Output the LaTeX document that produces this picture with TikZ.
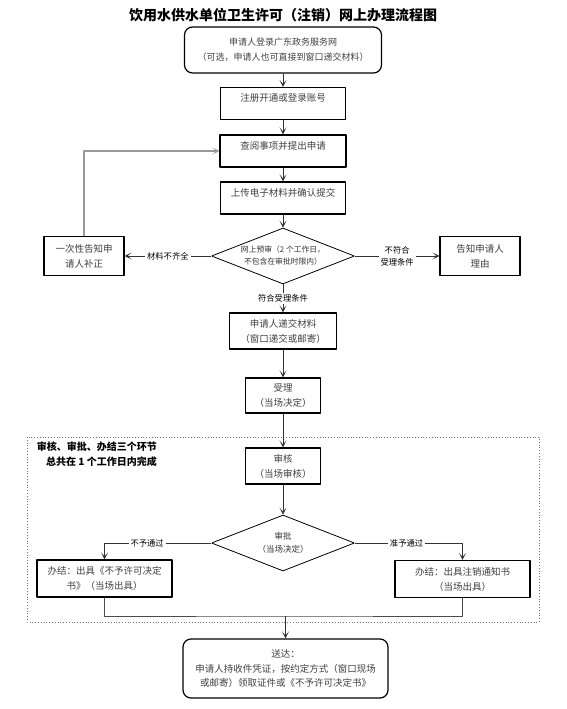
\documentclass[tikz,border=0pt]{standalone}
\usepackage{fontspec}
\usepackage{tikz}
\usetikzlibrary{arrows.meta}
\usetikzlibrary{shapes.geometric}
\newfontfamily\cjk{Noto Sans CJK SC}

\begin{document}
\begin{tikzpicture}[x=1pt, y=-1pt, line join=bevel,
    >={Stealth[length=7pt,width=7pt,inset=4pt]},
    box/.style={draw, line width=1.2pt, inner sep=0pt, align=center, text=black!75,
        font=\cjk\fontsize{9.5}{15}\selectfont},
    topbox/.style={box, text height=14pt, text depth=18pt},
    rbox/.style={box, rounded corners=8pt},
    dia/.style={draw, diamond, line width=0.8pt, inner sep=0pt,
        minimum width=143pt, minimum height=56pt},
    dialbl/.style={align=center, inner sep=0pt, text=black!80},
    lbl/.style={fill=white, inner sep=2pt, align=center,
        font=\cjk\fontsize{8.3}{12}\selectfont},
    flow/.style={->, draw=black!80, line width=0.8pt}]
            \useasboundingbox (0,0) rectangle (566,709);

            \draw [dotted, draw=black!55, line width=0.8pt] (27,437) rectangle (539,622);

            \node [font=\cjk\bfseries\fontsize{14}{16}\selectfont] (title) at (283,15)
                {饮用水供水单位卫生许可（注销）网上办理流程图};

            \node [rbox, minimum width=197pt, minimum height=46pt, font=\cjk\fontsize{9}{15}\selectfont] (login) at (283,50)
                {申请人登录广东政务服务网\\（可选，申请人也可直接到窗口递交材料）};
            \node [topbox, minimum width=125pt] (reg) at (283,103.5) {注册开通或登录账号};
            \node [topbox, minimum width=126pt] (query) at (283,151) {查阅事项并提出申请};
            \node [topbox, minimum width=125pt] (upload) at (283,198) {上传电子材料并确认提交};

            \node [dia] (pre) at (283,256) {};
            \node [dialbl, font=\cjk\fontsize{7.8}{12}\selectfont] (prelbl) at (pre)
                {网上预审（2 个工作日，\\不包含在审批时限内）};

            \node [box, minimum width=80pt, minimum height=39pt] (back) at (84,256) {一次性告知申\\请人补正};
            \node [box, minimum width=80pt, minimum height=39pt] (deny) at (480,256) {告知申请人\\理由};

            \node [box, minimum width=107pt, minimum height=36pt] (submit) at (283,331) {申请人递交材料\\（窗口递交或邮寄）};
            \node [box, minimum width=75pt, minimum height=35pt] (accept) at (283,395.5) {受理\\（当场决定）};

            \node [anchor=north east, align=right, inner sep=0pt, font=\cjk\bfseries\fontsize{10}{15}\selectfont] (note) at (157,442)
                {审核、审批、办结三个环节\\总共在 1 个工作日内完成};

            \node [box, minimum width=75pt, minimum height=36pt] (check) at (283,466) {审核\\（当场审核）};
            \node [dia] (approve) at (283,543) {};
            \node [dialbl, font=\cjk\fontsize{8.5}{13}\selectfont] (approvelbl) at (approve) {审批\\（当场决定）};

            \node [box, minimum width=135pt, minimum height=37pt] (refuse) at (104.5,578.5)
                {办结：出具《不予许可决定\\书》（当场出具）};
            \node [box, minimum width=135pt, minimum height=37pt] (grant) at (462.5,579)
                {办结：出具注销通知书\\（当场出具）};

            \node [rbox, minimum width=205pt, minimum height=59pt, font=\cjk\fontsize{9.5}{14.5}\selectfont] (deliver) at (285.5,668.5)
                {送达：\\申请人持收件凭证，按约定方式（窗口现场\\或邮寄）领取证件或《不予许可决定书》};

            \draw [flow] (login) -- (reg);
            \draw [flow] (reg) -- (query);
            \draw [flow] (query) -- (upload);
            \draw [flow] (upload) -- (pre);
            \draw [flow] (pre) -- node [lbl] {材料不齐全} (back);
            \draw [flow] (pre) -- node [lbl] {不符合\\受理条件} (deny);
            \draw [flow] (pre) -- node [lbl] {符合受理条件} (submit);
            \draw [->, draw=black!40, line width=1.3pt] (back) |- (query);

            \draw [flow] (submit) -- (accept);
            \draw [flow] (accept) -- (check);
            \draw [flow] (check) -- (approve);
            \draw [flow] (approve) -| node [lbl, pos=0.3] {不予通过} (refuse);
            \draw [flow] (approve) -| node [lbl, pos=0.24] {准予通过} (grant);

            \coordinate (merge) at (deliver.north |- 0,616);
            \draw [draw=black!70, line width=0.8pt] (refuse) |- (merge) -| (grant);
            \draw [flow] (merge) -- (deliver);
        \end{tikzpicture}
\end{document}
